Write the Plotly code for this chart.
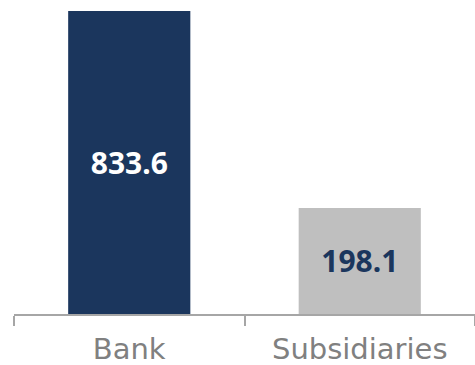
import plotly.graph_objects as go

categories = ["Bank", "Subsidiaries"]
values = [833.6, 198.1]
value_labels = ["833.6", "198.1"]
bar_colors = ["#1b365d", "#bfbfbf"]
text_colors = ["#ffffff", "#1b365d"]

AXIS_FLOOR = -144
AXIS_TOP = 869

fig = go.Figure(
    go.Bar(
        x=categories,
        y=[v - AXIS_FLOOR for v in values],
        base=AXIS_FLOOR,
        marker=dict(color=bar_colors, line=dict(width=0)),
        text=value_labels,
        textposition="inside",
        insidetextanchor="middle",
        textangle=0,
        textfont=dict(family="Noto Sans", size=30, color=text_colors, weight="bold"),
        hoverinfo="skip",
    )
)

fig.update_layout(
    width=475,
    height=365,
    margin=dict(l=14, r=0, t=0, b=51),
    paper_bgcolor="white",
    plot_bgcolor="white",
    bargap=0.47,
    showlegend=False,
    uniformtext=dict(mode=False),
    xaxis=dict(
        automargin=False,
        showline=True,
        linecolor="#a6a6a6",
        linewidth=1.5,
        ticks="outside",
        tickson="boundaries",
        ticklen=10,
        tickcolor="#a6a6a6",
        tickwidth=1.5,
        ticklabelstandoff=8,
        tickfont=dict(family="DejaVu Sans", size=29, color="#808080"),
        showgrid=False,
        zeroline=False,
    ),
    yaxis=dict(
        range=[AXIS_FLOOR, AXIS_TOP],
        visible=False,
        showgrid=False,
        zeroline=False,
    ),
)

fig.write_html("out.html")
